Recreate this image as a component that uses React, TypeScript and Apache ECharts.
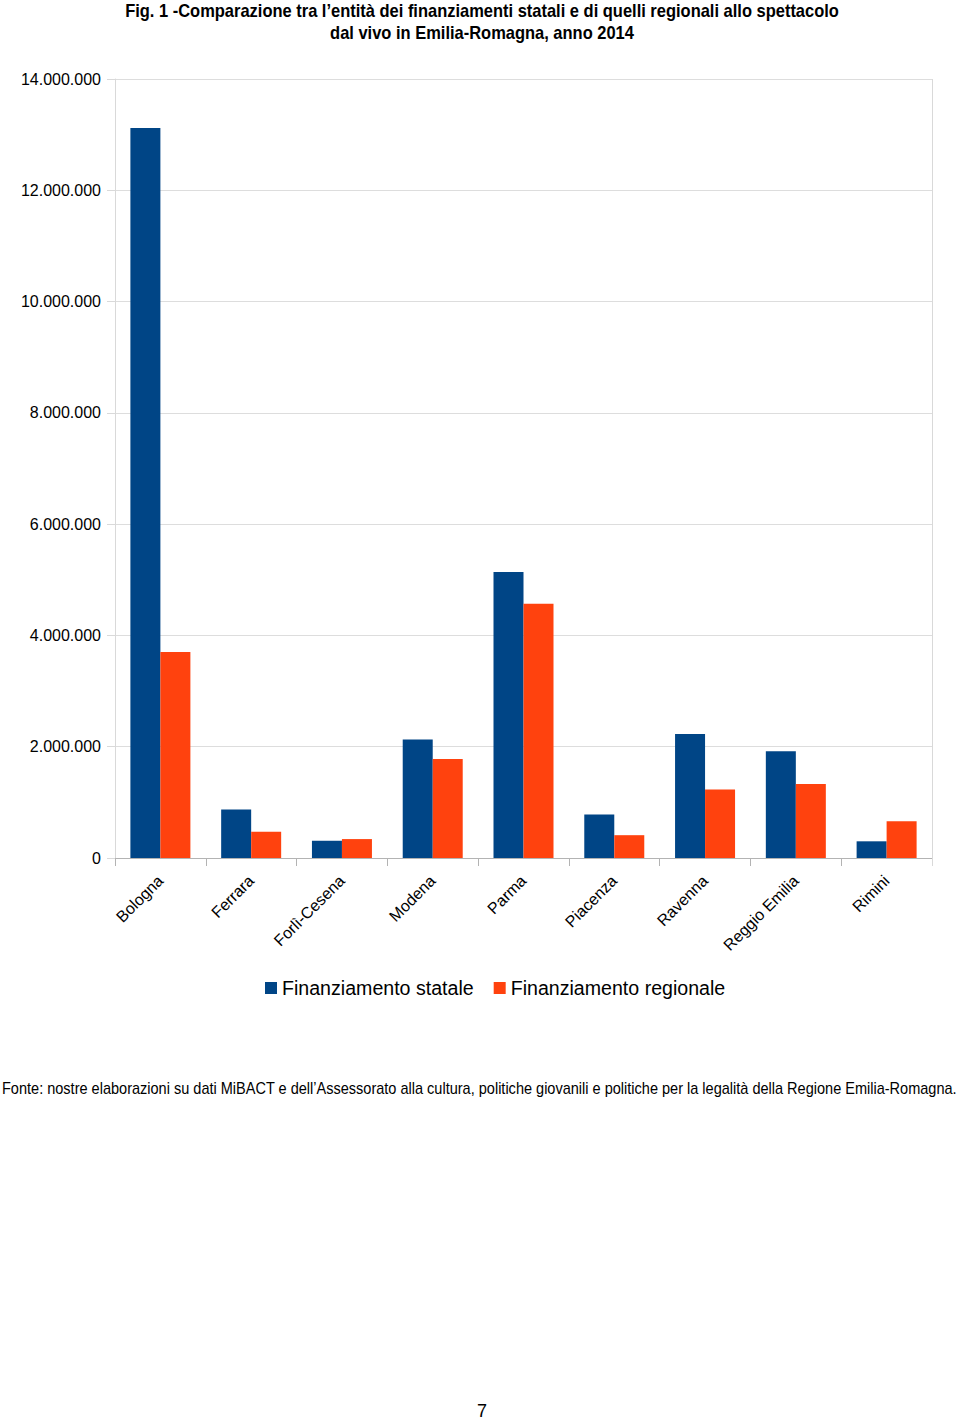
import React, { useEffect, useRef } from "react";
import * as echarts from "echarts";

const categories = ["Bologna", "Ferrara", "Forlì-Cesena", "Modena", "Parma", "Piacenza", "Ravenna", "Reggio Emilia", "Rimini"];
const statale = [13120000, 870000, 310000, 2130000, 5140000, 780000, 2230000, 1920000, 300000];
const regionale = [3700000, 470000, 340000, 1780000, 4570000, 410000, 1230000, 1330000, 660000];
const seriesNames = ["Finanziamento statale", "Finanziamento regionale"];
const titleLines = [
  "Fig. 1 -Comparazione tra l\u2019entità dei finanziamenti statali e di quelli regionali allo spettacolo",
  "dal vivo in Emilia-Romagna, anno 2014",
];
const footerText = "Fonte: nostre elaborazioni su dati MiBACT e dell\u2019Assessorato alla cultura, politiche giovanili e politiche per la legalità della Regione Emilia-Romagna.";
const pageNumber = "7";

const fmt = (v: number) => String(Math.round(v)).replace(/\B(?=(\d{3})+(?!\d))/g, ".");

export default function App() {
  const ref = useRef<HTMLDivElement>(null);
  useEffect(() => {
    const chart = echarts.init(ref.current!, undefined, { renderer: "svg" });
    const font = "'Liberation Sans', Arial, sans-serif";
    chart.setOption({
      animation: false,
      backgroundColor: "#ffffff",
      textStyle: { fontFamily: font },
      graphic: [
        {
          type: "text", x: 482, y: 10.5, scaleX: 0.915,
          style: { text: titleLines[0], fontFamily: font, fontWeight: "bold", fontSize: 18, fill: "#000", textAlign: "center", textVerticalAlign: "middle" },
        },
        {
          type: "text", x: 482, y: 32.5, scaleX: 0.915,
          style: { text: titleLines[1], fontFamily: font, fontWeight: "bold", fontSize: 18, fill: "#000", textAlign: "center", textVerticalAlign: "middle" },
        },
        {
          type: "text", x: 2, y: 1088, scaleX: 0.909,
          style: { text: footerText, fontFamily: font, fontSize: 16, fill: "#000", textAlign: "left", textVerticalAlign: "middle" },
        },
        {
          type: "text", x: 482, y: 1411,
          style: { text: pageNumber, fontFamily: font, fontSize: 18, fill: "#000", textAlign: "center", textVerticalAlign: "middle" },
        },
      ],
      legend: {
        left: 260,
        top: 973,
        itemWidth: 12,
        itemHeight: 12,
        itemGap: 20,
        icon: "rect",
        textStyle: { fontFamily: font, fontSize: 19.6, color: "#000" },
        data: seriesNames,
      },
      grid: { left: 115, right: 28, top: 79, bottom: 565, containLabel: false },
      xAxis: {
        type: "category",
        data: categories,
        boundaryGap: true,
        axisLine: { show: true, lineStyle: { color: "#b3b3b3" } },
        axisTick: { show: true, length: 8, alignWithLabel: false, lineStyle: { color: "#b3b3b3" } },
        axisLabel: { rotate: 45, interval: 0, fontFamily: font, fontSize: 16, color: "#000", margin: 20 },
        splitLine: { show: false },
      },
      yAxis: {
        type: "value",
        min: 0,
        max: 14000000,
        interval: 2000000,
        axisLine: { show: true, lineStyle: { color: "#d9d9d9" } },
        axisTick: { show: true, length: 8, lineStyle: { color: "#d9d9d9" } },
        axisLabel: { formatter: (v: number) => fmt(v), fontFamily: font, fontSize: 16, color: "#000", margin: 14 },
        splitLine: { show: true, lineStyle: { color: "#dddddd" } },
      },
      series: [
        { name: seriesNames[0], type: "bar", data: statale, itemStyle: { color: "#004586" }, barWidth: 30, barGap: "0%" },
        { name: seriesNames[1], type: "bar", data: regionale, itemStyle: { color: "#ff420e" }, barWidth: 30, barGap: "0%" },
      ],
    });
    return () => chart.dispose();
  }, []);
  return (
    <div>
      <div ref={ref} style={{ position: "absolute", left: 0, top: 0, width: 960, height: 1423 }} />
      <div style={{ position: "absolute", right: 27, top: 79, width: 1, height: 787, background: "#d9d9d9" }} />
    </div>
  );
}
